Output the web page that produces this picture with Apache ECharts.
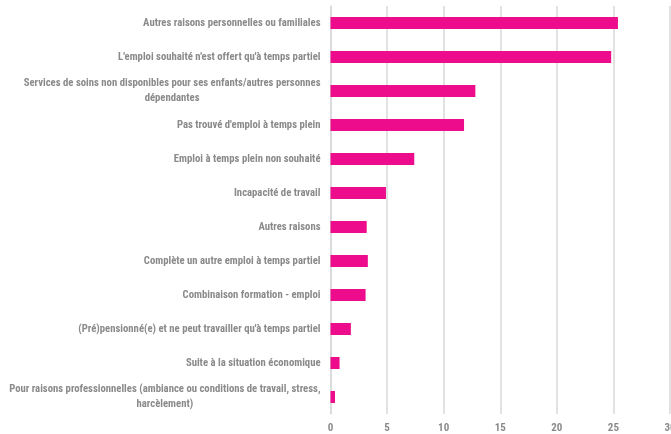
<!DOCTYPE html>
<html>
<head>
<meta charset="utf-8">
<script src="https://cdn.jsdelivr.net/npm/echarts@6/dist/echarts.min.js"></script>
<style>
html,body{margin:0;padding:0;background:#fff;}
#chart{width:671px;height:434px;}
</style>
</head>
<body>
<div id="chart"></div>
<script>
const categories = [
  "Autres raisons personnelles ou familiales",
  "L'emploi souhaité n'est offert qu'à temps partiel",
  "Services de soins non disponibles pour ses enfants/autres personnes\ndépendantes",
  "Pas trouvé d'emploi à temps plein",
  "Emploi à temps plein non souhaité",
  "Incapacité de travail",
  "Autres raisons",
  "Complète un autre emploi à temps partiel",
  "Combinaison formation - emploi",
  "(Pré)pensionné(e) et ne peut travailler qu'à temps partiel",
  "Suite à la situation économique",
  "Pour raisons professionnelles (ambiance ou conditions de travail, stress,\nharcèlement)"
];
const values = [25.4, 24.8, 12.8, 11.8, 7.4, 4.9, 3.2, 3.3, 3.1, 1.8, 0.8, 0.4];
const xTicks = { min: 0, max: 30, interval: 5 };

const FONT = "'Roboto Condensed', Roboto, sans-serif";
const chart = echarts.init(document.getElementById('chart'), null, { renderer: 'canvas' });
chart.setOption({
  animation: false,
  grid: { left: 330.5, right: 1, top: 6, bottom: 20, containLabel: false, outerBoundsMode: 'none' },
  xAxis: {
    type: 'value',
    min: xTicks.min, max: xTicks.max, interval: xTicks.interval,
    axisLine: { show: false },
    axisTick: { show: false },
    splitLine: { show: true, lineStyle: { color: '#d9d9d9', width: 1.5 } },
    axisLabel: { color: '#8a8a8a', fontFamily: FONT, fontWeight: 'bold', fontSize: 11, margin: 9 }
  },
  yAxis: {
    type: 'category',
    inverse: true,
    data: categories,
    axisLine: { show: true, lineStyle: { color: '#d9d9d9', width: 1.5 } },
    axisTick: { show: false },
    axisLabel: {
      margin: 10,
      formatter: function (v) { return v.split('\n').map(l => '{c|' + l + '}').join('\n'); },
      rich: { c: { align: 'center', color: '#8a8a8a', fontFamily: FONT, fontWeight: 'bold', fontSize: 10.7, lineHeight: 15 } }
    }
  },
  series: [{
    type: 'bar',
    data: values,
    barWidth: 12,
    itemStyle: { color: '#ec0c8c' }
  }]
});
</script>
</body>
</html>
